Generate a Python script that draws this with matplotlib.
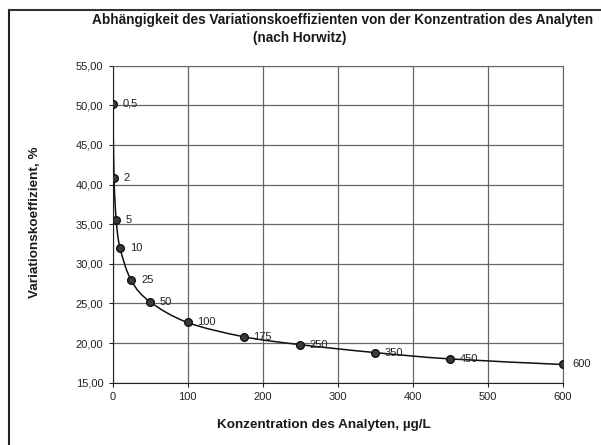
import numpy as np
import matplotlib.pyplot as plt
from matplotlib.path import Path
from matplotlib.patches import PathPatch
from matplotlib.lines import Line2D

plt.rcParams['font.family'] = ['Liberation Sans', 'DejaVu Sans']

# Horwitz curve
concentration = [0.5, 2, 5, 10, 25, 50, 100, 175, 250, 350, 450, 600]
cv_percent = [50.2, 40.8, 35.5, 32.0, 27.9, 25.2, 22.6, 20.8, 19.8, 18.8, 18.0, 17.3]
point_labels = ['0,5', '2', '5', '10', '25', '50', '100', '175', '250', '350', '450', '600']

x_ticks = [0, 100, 200, 300, 400, 500, 600]
y_ticks = [15, 20, 25, 30, 35, 40, 45, 50, 55]


def smooth_path(xs, ys):
    # Catmull-Rom style bezier through the points (like a smoothed line)
    pts = np.column_stack([xs, ys]).astype(float)
    n = len(pts)
    verts = [pts[0]]
    codes = [Path.MOVETO]
    for i in range(n - 1):
        p0 = pts[max(i - 1, 0)]
        p1 = pts[i]
        p2 = pts[i + 1]
        p3 = pts[min(i + 2, n - 1)]
        c1 = p1 + (p2 - p0) / 6.0
        c2 = p2 - (p3 - p1) / 6.0
        verts += [c1, c2, p2]
        codes += [Path.CURVE4] * 3
    return Path(verts, codes)


fig = plt.figure(figsize=(6.01, 4.45), dpi=100)
ax = fig.add_axes([0.1872, 0.140, 0.749, 0.7124])

ax.add_patch(PathPatch(smooth_path(concentration, cv_percent), fill=False,
                       edgecolor='#111111', lw=1.1, zorder=3))
ax.plot(concentration, cv_percent, linestyle='none', marker='o', markersize=5.5,
        markerfacecolor='#3a3a3a', markeredgecolor='#111111', zorder=4)

for x, y, lab in zip(concentration, cv_percent, point_labels):
    ax.annotate(lab, (x, y), xytext=(7, 0), textcoords='offset points',
                va='center', ha='left', fontsize=8, color='#222222', zorder=5)

ax.set_xlim(0, 600)
ax.set_ylim(15, 55)
ax.set_xticks(x_ticks)
ax.set_yticks(y_ticks)
ax.set_yticklabels([f'{v:.2f}'.replace('.', ',') for v in y_ticks])
ax.tick_params(labelsize=8, colors='#222222', length=3, width=0.8)
ax.grid(True, color='#666666', lw=0.9)
ax.set_axisbelow(True)

for side in ['top', 'right']:
    ax.spines[side].set_color('#666666')
for side in ['left', 'bottom']:
    ax.spines[side].set_color('#222222')

fig.text(92 / 601, 1 - 20 / 445, 'Abhängigkeit des Variationskoeffizienten von der Konzentration des Analyten',
         ha='left', va='center', fontsize=9.8, fontweight='bold', color='#1a1a1a')
fig.text(300 / 601, 1 - 38 / 445, '(nach Horwitz)',
         ha='center', va='center', fontsize=9.8, fontweight='bold', color='#1a1a1a')
fig.text(324 / 601, 1 - 425 / 445, 'Konzentration des Analyten, µg/L',
         ha='center', va='center', fontsize=9.7, fontweight='bold', color='#1a1a1a')
fig.text(35 / 601, 1 - 222 / 445, 'Variationskoeffizient, %', rotation=90,
         ha='center', va='center', fontsize=9.7, fontweight='bold', color='#1a1a1a')

# outer chart frame (left and top edges)
fig.add_artist(Line2D([9 / 601, 9 / 601], [0, 1 - 10 / 445], color='#222222', lw=1.5))
fig.add_artist(Line2D([9 / 601, 1], [1 - 10 / 445, 1 - 10 / 445], color='#333333', lw=1.5))

fig.savefig('out.png', dpi=100)
